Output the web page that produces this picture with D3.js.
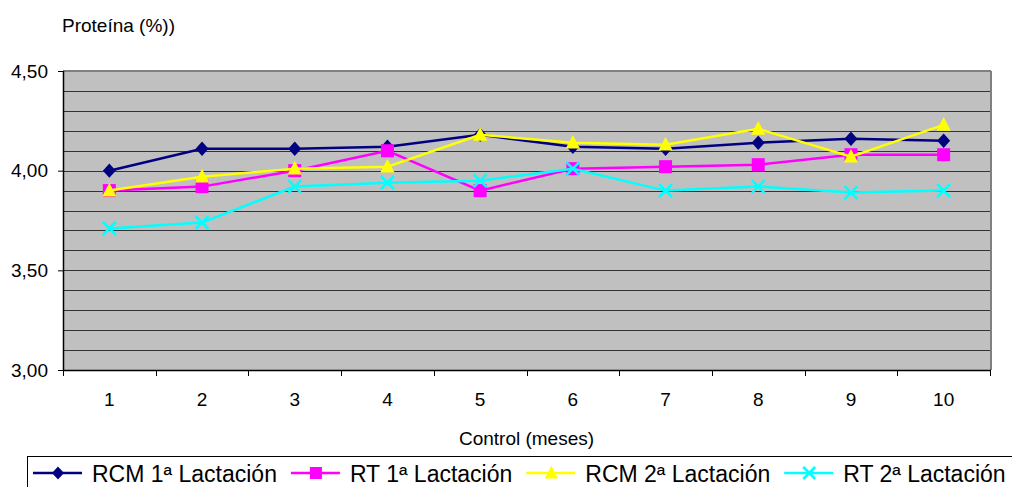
<!DOCTYPE html>
<html>
<head>
<meta charset="utf-8">
<script src="https://cdn.jsdelivr.net/npm/d3@7"></script>
<style>
  body { margin: 0; background: #fff; }
  svg { display: block; font-family: "Liberation Sans", Arial, sans-serif; }
</style>
</head>
<body>
<svg id="chart" width="1012" height="487"></svg>
<script>
const categories = ["1","2","3","4","5","6","7","8","9","10"];
const rcm1 = [4.00, 4.11, 4.11, 4.12, 4.18, 4.12, 4.11, 4.14, 4.16, 4.15];
const rt1  = [3.90, 3.92, 4.00, 4.10, 3.90, 4.01, 4.02, 4.03, 4.08, 4.08];
const rcm2 = [3.90, 3.97, 4.01, 4.02, 4.18, 4.14, 4.13, 4.21, 4.07, 4.23];
const rt2  = [3.71, 3.74, 3.92, 3.94, 3.95, 4.01, 3.90, 3.92, 3.89, 3.90];
const seriesNames = ["RCM 1ª Lactación", "RT 1ª Lactación", "RCM 2ª Lactación", "RT 2ª Lactación"];
const yTickValues = [3.0, 3.5, 4.0, 4.5];
const yTitle = "Proteína (%))";
const xTitle = "Control (meses)";

const series = [
  {name: seriesNames[0], values: rcm1, color: "#000080", marker: "diamond"},
  {name: seriesNames[1], values: rt1,  color: "#FF00FF", marker: "square"},
  {name: seriesNames[2], values: rcm2, color: "#FFFF00", marker: "triangle"},
  {name: seriesNames[3], values: rt2,  color: "#00FFFF", marker: "cross"}
];

const svg = d3.select("#chart");
const L = 63, R = 990, T = 71, B = 370;

const x = d3.scaleBand().domain(categories).range([L, R]);
const y = d3.scaleLinear().domain([3.0, 4.5]).range([B, T]);

// plot background
svg.append("rect").attr("x", L).attr("y", T).attr("width", R - L).attr("height", B - T)
  .attr("fill", "#C0C0C0");

// gridlines every 0.1
const grid = d3.range(31, 45).map(d => d / 10);
svg.append("g").selectAll("line").data(grid).join("line")
  .attr("x1", L).attr("x2", R)
  .attr("y1", d => Math.round(y(d)) + 0.5).attr("y2", d => Math.round(y(d)) + 0.5)
  .attr("stroke", "#333").attr("stroke-width", 1);

// top and right border
svg.append("line").attr("x1", L).attr("x2", R + 1).attr("y1", T).attr("y2", T)
  .attr("stroke", "#808080").attr("stroke-width", 2);
svg.append("line").attr("x1", R + 1).attr("x2", R + 1).attr("y1", T).attr("y2", B)
  .attr("stroke", "#808080").attr("stroke-width", 2);

// y axis
const yAxis = d3.axisLeft(y).tickValues(yTickValues).tickSize(5).tickPadding(10)
  .tickFormat(d => d3.format(".2f")(d).replace(".", ","));
const gy = svg.append("g").attr("transform", `translate(${L},0)`).call(yAxis);
gy.select(".domain").attr("stroke", "#000").attr("stroke-width", 1.5).attr("d", `M0.5,${T}V${B}`);
gy.selectAll(".tick line").attr("stroke", "#000");
gy.selectAll("text").attr("font-size", 19).attr("fill", "#000")
  .attr("font-family", "'Liberation Sans', Arial, sans-serif");

// x axis (ticks at category boundaries)
const xAxis = d3.axisBottom(x).tickSize(0).tickPadding(0);
const gx = svg.append("g").attr("transform", `translate(0,${B})`).call(xAxis);
gx.select(".domain").attr("stroke", "#000").attr("stroke-width", 1.5).attr("d", `M${L},0.5H${R + 1}`);
gx.selectAll("text").attr("font-size", 19).attr("fill", "#000").attr("dy", null).attr("y", 36)
  .attr("font-family", "'Liberation Sans', Arial, sans-serif");
const bounds = categories.map(c => x(c)).concat([x.range()[1]]);
gx.append("g").selectAll("line").data(bounds).join("line")
  .attr("x1", d => Math.round(d) + 0.5).attr("x2", d => Math.round(d) + 0.5)
  .attr("y1", 0).attr("y2", 6).attr("stroke", "#000");

// titles
svg.append("text").attr("x", 62).attr("y", 32).attr("font-size", 19).attr("fill", "#000").text(yTitle);
svg.append("text").attr("x", (L + R) / 2).attr("y", 445).attr("text-anchor", "middle")
  .attr("font-size", 19).attr("fill", "#000").text(xTitle);

// marker drawing
function drawMarker(g, type, color, size) {
  const s = size;
  if (type === "diamond") {
    g.append("path").attr("d", `M0,${-s*0.55}L${s*0.5},0L0,${s*0.55}L${-s*0.5},0Z`).attr("fill", color);
  } else if (type === "square") {
    g.append("rect").attr("x", -s/2).attr("y", -s/2).attr("width", s).attr("height", s).attr("fill", color);
  } else if (type === "triangle") {
    g.append("path").attr("d", `M0,${-s*0.6}L${s*0.55},${s*0.45}L${-s*0.55},${s*0.45}Z`).attr("fill", color);
  } else if (type === "cross") {
    const h = s * 0.5;
    g.append("path").attr("d", `M${-h},${-h}L${h},${h}M${-h},${h}L${h},${-h}`)
      .attr("stroke", color).attr("stroke-width", 2.5).attr("fill", "none");
  }
}

const line = d3.line().x((d, i) => x(categories[i]) + x.bandwidth() / 2).y(d => y(d));

series.forEach(s => {
  const g = svg.append("g");
  g.append("path").datum(s.values).attr("d", line).attr("fill", "none")
    .attr("stroke", s.color).attr("stroke-width", 2.5);
  s.values.forEach((v, i) => {
    const mg = g.append("g").attr("transform", `translate(${x(categories[i]) + x.bandwidth() / 2},${y(v)})`);
    drawMarker(mg, s.marker, s.color, 13);
  });
});

// legend
const legend = svg.append("g");
legend.append("rect").attr("x", 27.5).attr("y", 456.5).attr("width", 1000).attr("height", 50)
  .attr("fill", "#fff").attr("stroke", "#000").attr("stroke-width", 1);
let lx = 33;
const ly = 473;
series.forEach(s => {
  const item = legend.append("g");
  item.append("line").attr("x1", lx).attr("x2", lx + 49).attr("y1", ly).attr("y2", ly)
    .attr("stroke", s.color).attr("stroke-width", 2.5);
  const mg = item.append("g").attr("transform", `translate(${lx + 25},${ly})`);
  drawMarker(mg, s.marker, s.color, 12);
  const t = item.append("text").attr("x", lx + 59).attr("y", 482).attr("font-size", 23)
    .attr("fill", "#000").text(s.name);
  lx = lx + 59 + t.node().getComputedTextLength() + 14;
});
</script>
</body>
</html>
